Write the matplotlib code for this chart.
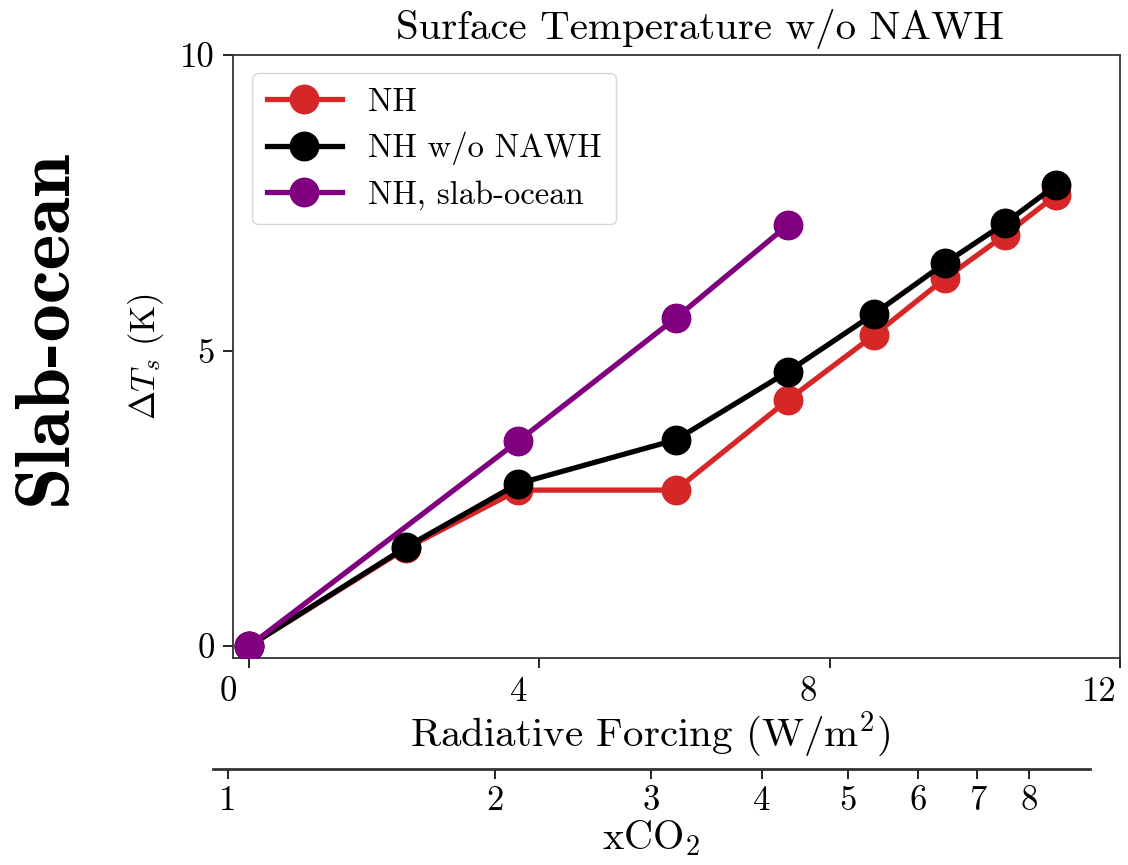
import numpy as np
import matplotlib
matplotlib.use("Agg")
import matplotlib.pyplot as plt
import matplotlib.transforms as mtransforms

plt.rcParams['font.family'] = 'serif'
plt.rcParams['font.serif'] = ['cmr10']
plt.rcParams['mathtext.fontset'] = 'cm'
plt.rcParams['axes.unicode_minus'] = False

# ---- data ----
forcing = [0.0, 2.17, 3.71, 5.88, 7.42, 8.61, 9.59, 10.41, 11.12]
nh = [0.0, 1.66, 2.64, 2.64, 4.16, 5.26, 6.22, 6.95, 7.63]
nh_no_nawh = [0.0, 1.68, 2.75, 3.49, 4.64, 5.62, 6.48, 7.15, 7.80]
slab_forcing = [0.0, 3.71, 5.88, 7.42]
slab = [0.0, 3.47, 5.55, 7.12]
x_ticks = [0, 4, 8, 12]
y_ticks = [0, 5, 10]
co2_ticks = [1, 2, 3, 4, 5, 6, 7, 8]

W, H = 1128, 865
fig = plt.figure(figsize=(W / 100, H / 100), dpi=100)

def px(l, t, r, b):
    return [l / W, (H - b) / H, (r - l) / W, (b - t) / H]

ax = fig.add_axes(px(233, 55, 1120, 658))
lw = 3.8
ms = 20.5
ax.plot(forcing, nh, '-o', color='#d62728', lw=lw, ms=ms, label='NH', zorder=3)
ax.plot(forcing, nh_no_nawh, '-o', color='black', lw=lw, ms=ms, label='NH w/o NAWH', zorder=4)
ax.plot(slab_forcing, slab, '-o', color='#800080', lw=lw, ms=ms, label='NH, slab-ocean', zorder=5)

ax.set_xlim(-0.22, 12)
ax.set_ylim(-0.2, 10)
ax.set_xticks(x_ticks)
ax.set_xticklabels([str(v) for v in x_ticks])
ax.set_yticks(y_ticks)
ax.set_yticklabels([str(v) for v in y_ticks])
ax.tick_params(direction='out', length=7, width=1.2, labelsize=25, pad=6)
for s in ax.spines.values():
    s.set_linewidth(1.3)
    s.set_color('#333333')

off = mtransforms.ScaledTranslation(-21 / 100, 0, fig.dpi_scale_trans)
for lab in ax.get_xticklabels():
    lab.set_transform(lab.get_transform() + off)

ax.set_ylabel(r'$\Delta T_s$ (K)', fontsize=25)
ax.yaxis.set_label_coords((166 - 233) / 887, 0.5)

leg = ax.legend(loc='upper left', bbox_to_anchor=(0.0214, 0.970), borderaxespad=0,
                fontsize=23.5, handlelength=2.3, markerscale=1.0, frameon=True,
                fancybox=True, edgecolor='#cccccc', handletextpad=0.8,
                labelspacing=0.45, borderpad=0.45)

fig.text(700 / W, 1 - 29 / H, 'Surface Temperature w/o NAWH', ha='center', va='center', fontsize=29.5)
fig.text(650 / W, 1 - 735 / H, r'Radiative Forcing (W/m$^2$)', ha='center', va='center', fontsize=29.5)
fig.text(46 / W, 1 - 327 / H, 'Slab-ocean', ha='center', va='center', rotation=90,
         fontsize=55, family='cmb10')

# secondary xCO2 axis
ax2 = fig.add_axes(px(213, 768, 1090, 769))
ax2.set_xscale('log')
ax2.set_xlim(0.962, 9.38)
for k in ['top', 'left', 'right']:
    ax2.spines[k].set_visible(False)
ax2.spines['bottom'].set_linewidth(2.0)
ax2.spines['bottom'].set_color('#333333')
ax2.set_yticks([])
ax2.set_xticks(co2_ticks)
ax2.set_xticklabels([str(v) for v in co2_ticks])
ax2.xaxis.set_minor_locator(matplotlib.ticker.NullLocator())
ax2.tick_params(direction='out', length=7, width=1.2, labelsize=25, pad=5)
ax2.patch.set_visible(False)
fig.text(651 / W, 1 - 849 / H, r'xCO$_2$', ha='center', va='baseline', fontsize=29)

fig.savefig('out.png', dpi=100)
